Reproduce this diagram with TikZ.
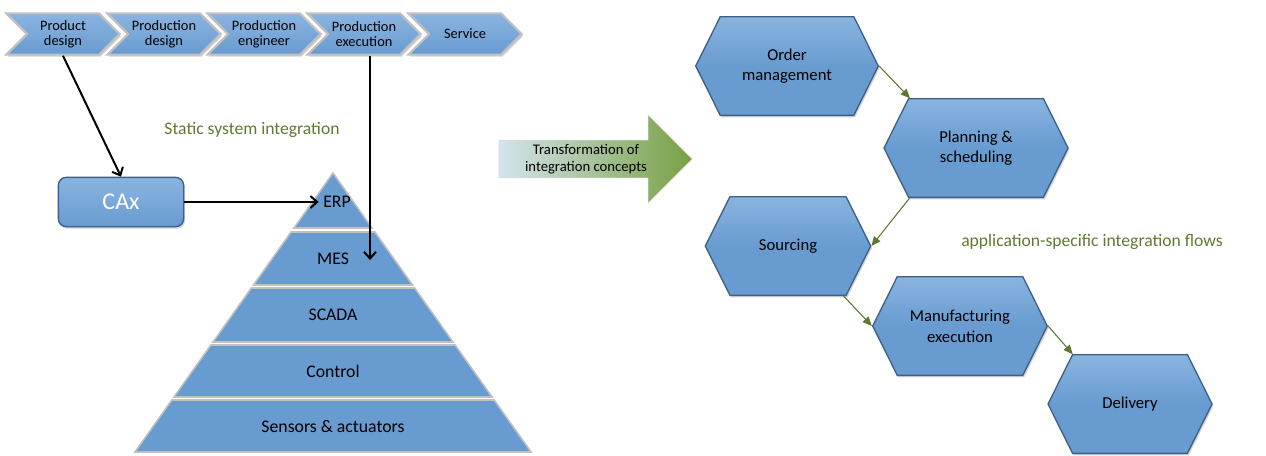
\documentclass[tikz,border=0pt]{standalone}
\usepackage{fontspec}
\setmainfont{Carlito}
\usetikzlibrary{shapes.symbols,shapes.arrows,shadows,arrows.meta,positioning}

\definecolor{boxblue}{RGB}{104,155,208}
\definecolor{boxtop}{RGB}{138,180,224}
\definecolor{boxline}{RGB}{62,96,136}
\definecolor{bevelgray}{RGB}{192,192,192}
\definecolor{flowgreen}{RGB}{95,122,47}
\definecolor{arrowleft}{RGB}{212,228,238}
\definecolor{arrowright}{RGB}{120,160,66}

\tikzset{
  phase/.style={signal, signal to=east, signal from=west, signal pointer angle=90,
    top color=boxtop, bottom color=boxblue, draw=bevelgray, line width=1.6pt,
    minimum width=85pt, minimum height=31pt,
    inner sep=1pt, align=center, font=\fontsize{10.8}{11}\selectfont,
    drop shadow={opacity=0.35, shadow xshift=1pt, shadow yshift=-1.5pt}},
  hexa/.style={signal, signal to=east and west, signal pointer angle=127,
    top color=boxtop, bottom color=boxblue, middle color=boxblue, draw=boxline, line width=1pt,
    minimum height=74pt, align=center, font=\fontsize{12.5}{15.5}\selectfont,
    drop shadow={opacity=0.35, shadow xshift=1pt, shadow yshift=-1.5pt}},
  layer/.style={fill=boxblue, draw=bevelgray, line width=1.2pt},
  layertext/.style={font=\fontsize{13.3}{14}\selectfont},
  link/.style={line width=1.5pt, -{Straight Barb[length=5pt,width=9pt]}},
  flow/.style={draw=flowgreen, line width=0.8pt, -{Triangle[length=7pt,width=6pt]}, fill=flowgreen},
  note/.style={text=flowgreen, font=\fontsize{13.2}{15}\selectfont}
}

\begin{document}
\begin{tikzpicture}[x=0.75pt, y=-0.75pt]
  \useasboundingbox (0,0) rectangle (1266,455);

  % value chain
  \node[phase] (pdes)  at (63,34)  {Product\\design};
  \node[phase] (prdes) at (164,34) {Production\\design};
  \node[phase] (peng)  at (264,34) {Production\\engineer};
  \node[phase] (pexec) at (364,34) {Production\\execution};
  \node[phase] (serv)  at (465,34) {Service};

  \node[note] (static) at (252,130) {Static system integration};

  % CAx box
  \node[top color=boxtop, bottom color=boxblue, draw=boxline, line width=1pt, rounded corners=6pt,
        minimum width=94pt, minimum height=37pt, text=white,
        font=\fontsize{18}{20}\selectfont,
        drop shadow={opacity=0.35, shadow xshift=1pt, shadow yshift=-1.5pt}] (cax) at (121,202) {CAx};

  % automation pyramid
  \draw[layer] (333,173) -- (372,228) -- (294,228) -- cycle;
  \node[layertext] (erp) at (337,202) {ERP};
  \foreach \yt/\yb/\nm/\lab in {232/285/mes/MES, 288/342/scada/SCADA,
      345/397/ctrl/Control, 400/452/sens/Sensors \& actuators} {
    \pgfmathsetmacro\wt{(\yt-173)*0.71}
    \pgfmathsetmacro\wb{(\yb-173)*0.71}
    \draw[layer] ({333-\wt},\yt) -- ({333+\wt},\yt) -- ({333+\wb},\yb) -- ({333-\wb},\yb) -- cycle;
    \node[layertext] (\nm) at (333,{(\yt+\yb)/2}) {\lab};
  }

  \coordinate (mesin) at (370,260);
  \draw[link] (pdes.south) -- (cax.north);
  \draw[link] (cax.east) -- (erp.west);
  \draw[link] (pexec.south -| mesin) -- (mesin);

  % transformation arrow
  \node[single arrow, single arrow head extend=18.75pt, single arrow tip angle=90,
        minimum height=145pt, inner ysep=3pt, draw=gray!30,
        left color=arrowleft, right color=arrowright, align=center,
        font=\fontsize{11}{12.5}\selectfont] (trans) at (586,159) {Transformation of\\integration concepts};

  % application flows
  \node[hexa, minimum width=137pt] (order) at (787,66)   {Order\\management};
  \node[hexa, minimum width=138pt] (plan)  at (976,148)  {Planning \&\\scheduling};
  \node[hexa, minimum width=124pt] (sourc) at (788,246)  {Sourcing};
  \node[hexa, minimum width=131pt] (manuf) at (960,326)  {Manufacturing\\execution};
  \node[hexa, minimum width=123pt] (deliv) at (1130,404) {Delivery};

  \node[note] (appflow) at (1092,242) {application-specific integration flows};

  \draw[flow] (order.east) -- (plan.143);
  \draw[flow] (plan.217) -- (sourc.east);
  \draw[flow] (sourc.-42) -- (manuf.west);
  \draw[flow] (manuf.east) -- (deliv.139);
\end{tikzpicture}
\end{document}
